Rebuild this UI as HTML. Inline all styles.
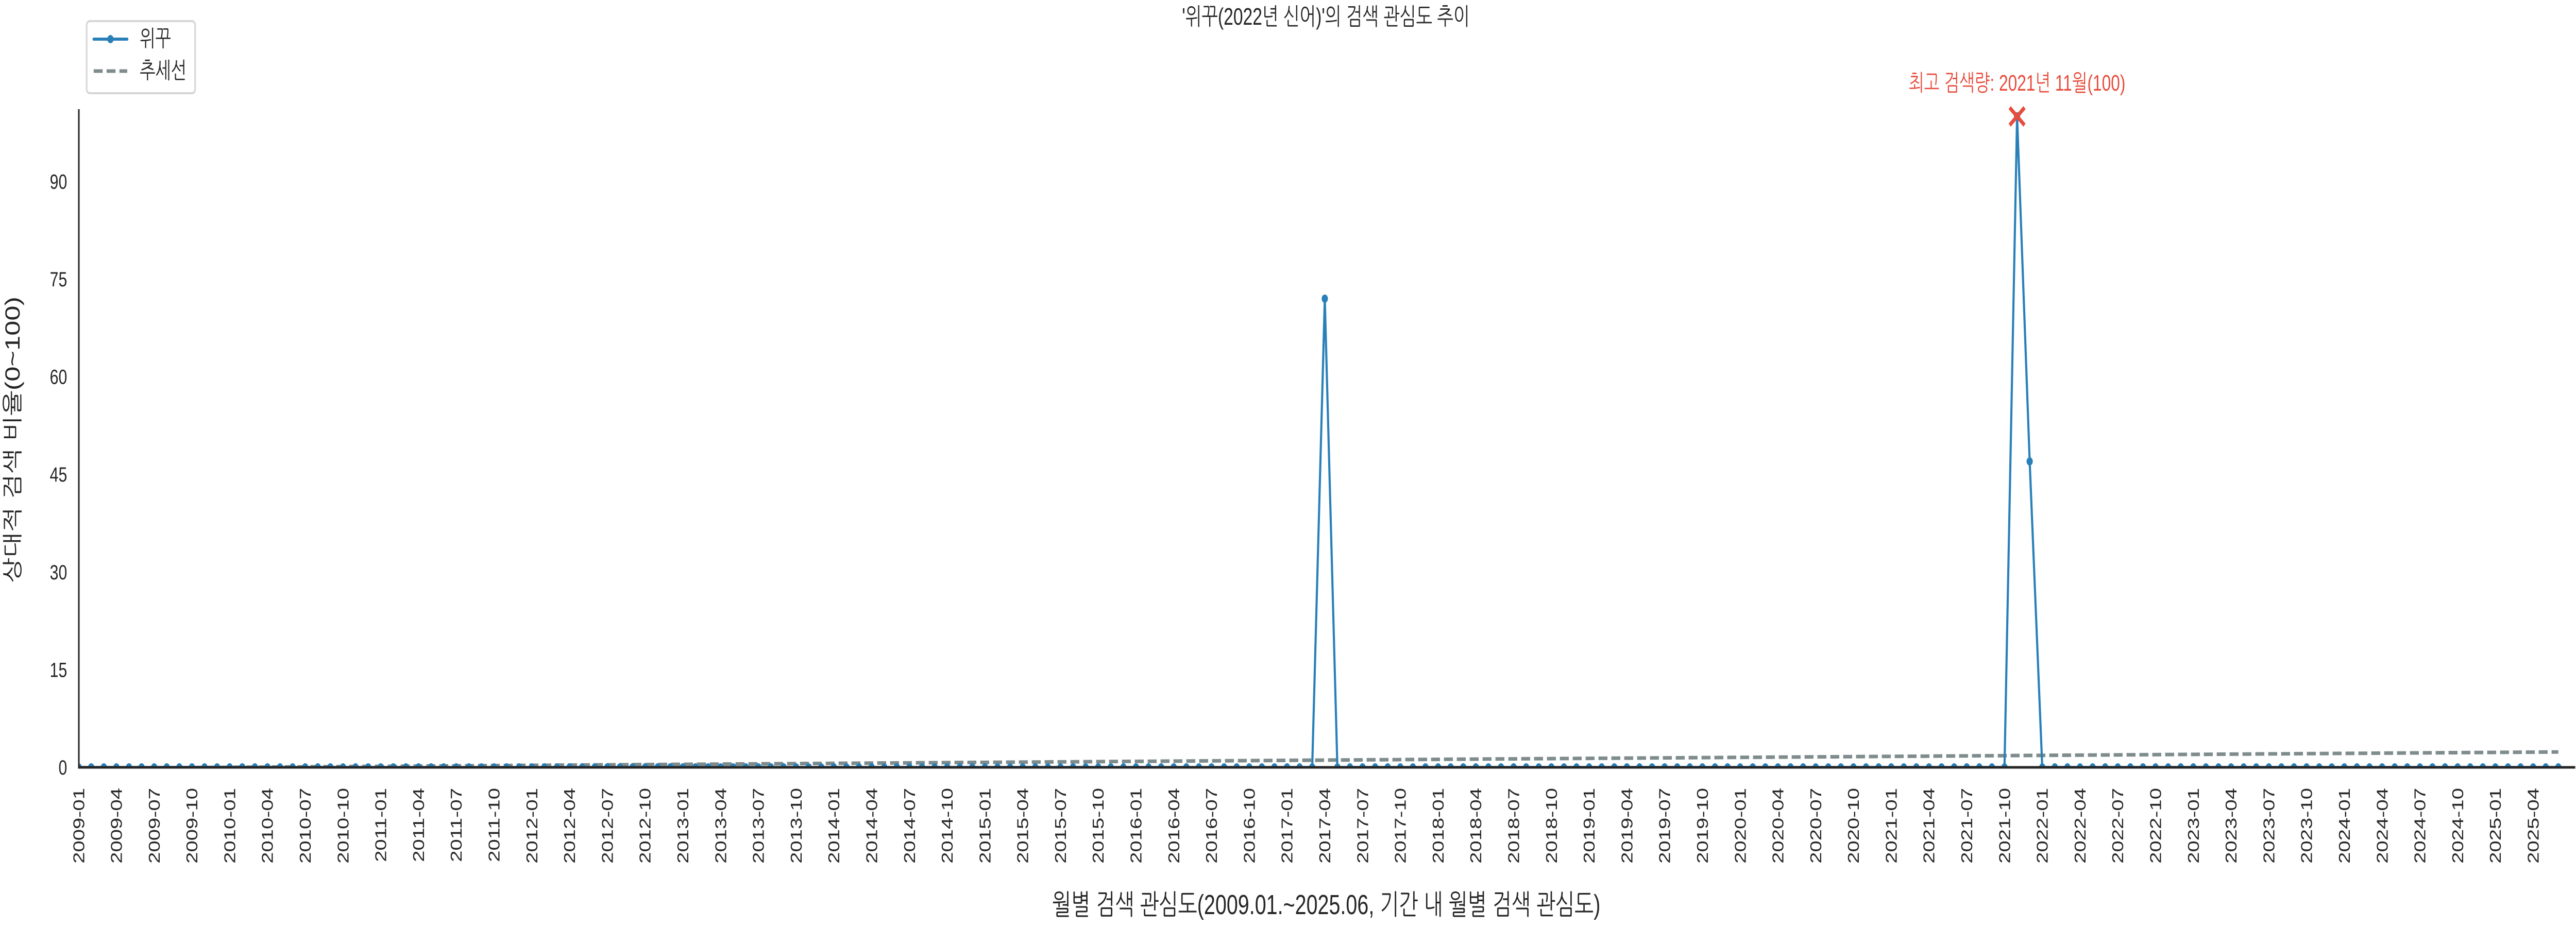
<!DOCTYPE html>
<html><head><meta charset="utf-8"><style>
html,body{margin:0;padding:0;background:#fff;width:100%;height:100%;overflow:hidden;}
svg{display:block;position:absolute;left:0;top:0;width:100vw;height:100vh;font-family:"Liberation Sans","NanumGothic","Noto Sans CJK KR",sans-serif;}
</style></head><body>
<svg id="chart" viewBox="0 0 6600 1800" preserveAspectRatio="none" xmlns="http://www.w3.org/2000/svg">
<defs><clipPath id="plotclip"><rect x="202" y="150" width="6398" height="1340"/></clipPath></defs>
<text x="3397" y="48" text-anchor="middle" font-size="46" fill="#262626" textLength="737" lengthAdjust="spacingAndGlyphs">'위꾸(2022년 신어)'의 검색 관심도 추이</text>
<g id="yticks"></g>
<g id="xticks"></g>
<g id="plot" clip-path="url(#plotclip)"></g>
<line x1="202" y1="212" x2="202" y2="1492" stroke="#262626" stroke-width="4"/>
<line x1="200" y1="1490" x2="6598" y2="1490" stroke="#262626" stroke-width="5"/>
<g id="annot"></g>
<text transform="translate(50,854) rotate(-90)" text-anchor="middle" font-size="52" fill="#262626" textLength="556" lengthAdjust="spacingAndGlyphs">상대적 검색 비율(0~100)</text>
<text x="3398" y="1775" text-anchor="middle" font-size="54" fill="#262626" textLength="1405" lengthAdjust="spacingAndGlyphs">월별 검색 관심도(2009.01.~2025.06, 기간 내 월별 검색 관심도)</text>
<g>
<rect x="222" y="41" width="278" height="140" rx="8" fill="#fff" stroke="#d6d6d6" stroke-width="4"/>
<g>
<line x1="240" y1="76" x2="326" y2="76" stroke="#2980b9" stroke-width="6" stroke-linecap="round"/>
<circle cx="283" cy="76" r="8" fill="#2980b9"/>
<text x="358" y="90" font-size="44" fill="#262626" textLength="80" lengthAdjust="spacingAndGlyphs">위꾸</text>
</g>
<g>
<line x1="240" y1="138" x2="326" y2="138" stroke="#7f8c8d" stroke-width="7" stroke-dasharray="23,10"/>
<text x="358" y="152" font-size="44" fill="#262626" textLength="120" lengthAdjust="spacingAndGlyphs">추세선</text>
</g>
</g>
</svg>
<script>
const startYear = 2009;
const monthCount = 198;
const spikeMonths = ["2017-04","2021-11","2021-12"];
const spikeValues = [72, 100, 47];
const yTickValues = [0,15,30,45,60,75,90];
const peakLabel = "최고 검색량: 2021년 11월(100)";

const NS = "http://www.w3.org/2000/svg";
const X0 = 201.5, DX = 32.25, Y0 = 1490, DY = 12.64;
function xs(i){ return X0 + i*DX; }
function ys(v){ return Y0 - v*DY; }
function mk(tag, attrs, parent){ const e=document.createElementNS(NS,tag); for(const k in attrs) e.setAttribute(k,attrs[k]); parent.appendChild(e); return e; }

const months = [];
for(let i=0;i<monthCount;i++){ const y=startYear+Math.floor(i/12), m=i%12+1; months.push(y+"-"+(m<10?"0":"")+m); }
const values = months.map(m => { const k=spikeMonths.indexOf(m); return k>=0?spikeValues[k]:0; });

const yt = document.getElementById('yticks');
yTickValues.forEach(v=>{
  const t = mk('text',{x:172,y:ys(v)+14,'text-anchor':'end','font-size':40,fill:'#262626'},yt);
  
  
  t.textContent = v;
});
const xt = document.getElementById('xticks');
months.forEach((m,i)=>{
  if(i%3!==0) return;
  const x=xs(i);
  const t = mk('text',{transform:`translate(${x+14},1530) rotate(-90)`,'text-anchor':'end','font-size':40,fill:'#262626'},xt);
  
  
  t.textContent = m;
});

const n=values.length; let sx=0,sy=0,sxy=0,sxx=0;
values.forEach((v,i)=>{sx+=i;sy+=v;sxy+=i*v;sxx+=i*i;});
const slope=(n*sxy-sx*sy)/(n*sxx-sx*sx), icpt=(sy-slope*sx)/n;
const plot=document.getElementById('plot');
const trend = mk('line',{x1:xs(0),y1:ys(icpt),x2:xs(n-1),y2:ys(icpt+slope*(n-1)),stroke:'#7f8c8d','stroke-width':7,'stroke-dasharray':'23,10'},plot);



const line = mk('polyline',{points:values.map((v,i)=>xs(i)+','+ys(v)).join(' '),fill:'none',stroke:'#2980b9','stroke-width':5.5,'stroke-linejoin':'round'},plot);


values.forEach((v,i)=>{
  const c = mk('circle',{cx:xs(i),cy:ys(v),r:8,fill:'#2980b9'},plot);
  
  
});

let pi=0; values.forEach((v,i)=>{ if(v>values[pi]) pi=i; });
const an=document.getElementById('annot');
const px=xs(pi), py=ys(values[pi]);
const xm = mk('path',{d:`M${px-19},${py-17}L${px+19},${py+17}M${px-19},${py+17}L${px+19},${py-17}`,stroke:'#e74c3c','stroke-width':8,fill:'none'},an);


const at = mk('text',{x:px,y:176,'text-anchor':'middle','font-size':44,fill:'#e74c3c',textLength:555,lengthAdjust:'spacingAndGlyphs'},an);


at.textContent = peakLabel;
</script>
</body></html>
